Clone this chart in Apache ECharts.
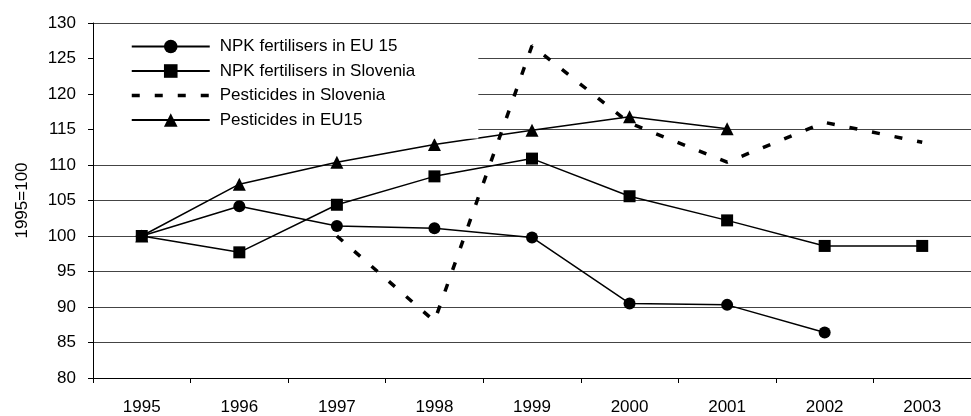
<!DOCTYPE html>
<html>
<head>
<meta charset="utf-8">
<script src="https://cdn.jsdelivr.net/npm/echarts@6/dist/echarts.min.js"></script>
<style>
html,body{margin:0;padding:0;background:#fff;}
#chart{width:971px;height:416px;}
</style>
</head>
<body>
<div id="chart"></div>
<script>
var years = ['1995','1996','1997','1998','1999','2000','2001','2002','2003'];
var npkEU15 = [100, 104.2, 101.4, 101.1, 99.8, 90.5, 90.3, 86.4, null];
var npkSlovenia = [100, 97.7, 104.4, 108.4, 110.9, 105.6, 102.2, 98.6, 98.6];
var pestSlovenia = [null, null, 100, 88, 126.8, 115.9, 110.4, 116, 113.2];
var pestEU15 = [100, 107.3, 110.4, 112.9, 114.9, 116.8, 115.1, null, null];
var seriesNames = ['NPK fertilisers in EU 15','NPK fertilisers in Slovenia','Pesticides in Slovenia','Pesticides in EU15'];
var yTitle = '1995=100';

var FONT = 'Liberation Sans, Arial, sans-serif';
var chart = echarts.init(document.getElementById('chart'), null, {renderer:'canvas'});
var solid = {color:'#000', width:1.5};
var dashed = {color:'#000', width:3.5, type:[8,15]};
chart.setOption({
  animation:false,
  backgroundColor:'#fff',
  textStyle:{fontFamily:FONT},
  grid:{left:93, top:23, width:889, height:358, containLabel:false},
  legend:{
    orient:'vertical', left:94, top:24,
    backgroundColor:'#fff',
    padding:[14,63,10,36],
    itemWidth:78, itemHeight:17, itemGap:7.5,
    textStyle:{fontSize:17, color:'#000', fontFamily:FONT, lineHeight:17, padding:[0,0,0,5]},
    data:[
      {name:seriesNames[0]},
      {name:seriesNames[1]},
      {name:seriesNames[2], itemStyle:{opacity:0}, lineStyle:dashed},
      {name:seriesNames[3]}
    ]
  },
  xAxis:{
    type:'category', data:years, boundaryGap:true,
    axisLine:{lineStyle:{color:'#000', width:1}},
    axisTick:{show:true, alignWithLabel:false, length:5, lineStyle:{color:'#000'}},
    axisLabel:{fontSize:17, color:'#000', margin:21, fontFamily:FONT},
    splitLine:{show:false}
  },
  yAxis:{
    type:'value', min:80, max:130, interval:5,
    name:yTitle, nameLocation:'middle', nameGap:62, nameRotate:90,
    nameTextStyle:{fontSize:17, color:'#000', fontFamily:FONT},
    axisLine:{show:true, lineStyle:{color:'#000', width:1}},
    axisTick:{show:true, length:5, lineStyle:{color:'#000'}},
    axisLabel:{fontSize:17, color:'#000', margin:17, fontFamily:FONT},
    splitLine:{show:true, lineStyle:{color:'#444', width:1}}
  },
  series:[
    {name:seriesNames[0], type:'line', data:npkEU15, symbol:'circle', symbolSize:12,
     itemStyle:{color:'#000'}, lineStyle:solid},
    {name:seriesNames[1], type:'line', data:npkSlovenia, symbol:'rect', symbolSize:12,
     itemStyle:{color:'#000'}, lineStyle:solid},
    {name:seriesNames[2], type:'line', data:pestSlovenia, symbol:'none',
     itemStyle:{color:'#000'}, lineStyle:dashed},
    {name:seriesNames[3], type:'line', data:pestEU15, symbol:'triangle', symbolSize:13,
     itemStyle:{color:'#000'}, lineStyle:solid}
  ]
});
</script>
</body>
</html>
